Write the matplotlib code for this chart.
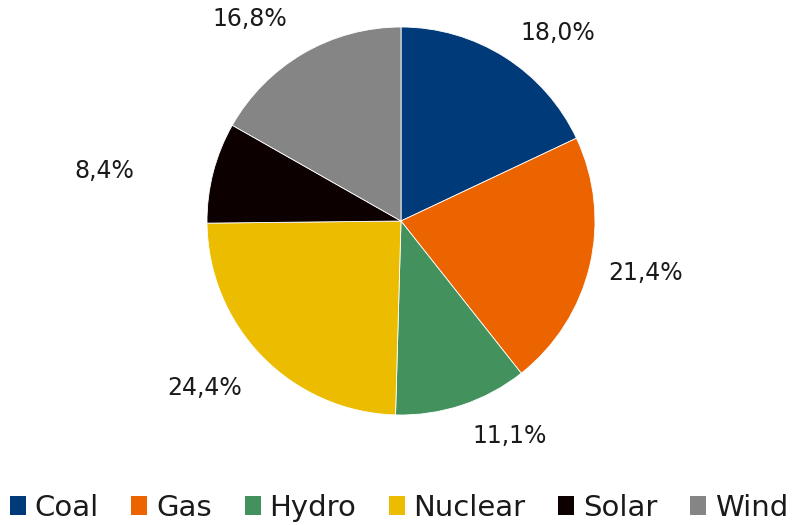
import numpy as np
import matplotlib.pyplot as plt
from matplotlib.patches import Patch

# energy mix shares (%)
sources = ['Coal', 'Gas', 'Hydro', 'Nuclear', 'Solar', 'Wind']
shares = [18.0, 21.4, 11.1, 24.4, 8.4, 16.8]
colors = ['#003A78', '#EC6400', '#43925E', '#EBBC00', '#0D0000', '#858585']
labels = ['18,0%', '21,4%', '11,1%', '24,4%', '8,4%', '16,8%']

# label offsets from pie centre, in radius units (as laid out in the original)
label_pos = [(0.81, 0.97), (1.26, -0.27), (0.56, -1.11),
             (-1.01, -0.86), (-1.53, 0.26), (-0.78, 1.04)]

plt.rcParams['font.family'] = ['DejaVu Sans']

W, H = 798, 525
fig = plt.figure(figsize=(W / 100, H / 100), dpi=100)
cx, cy, r = 401, 221, 194
ax = fig.add_axes([(cx - r) / W, (H - cy - r) / H, 2 * r / W, 2 * r / H])

ax.pie(shares, colors=colors, startangle=90, counterclock=False, radius=1,
       wedgeprops=dict(edgecolor='white', linewidth=0.6))
ax.set_xlim(-1, 1)
ax.set_ylim(-1, 1)
ax.set_aspect('equal')
ax.axis('off')

for lab, (dx, dy) in zip(labels, label_pos):
    ax.text(dx, dy, lab, ha='center', va='center', fontsize=17, color='#1a1a1a',
            clip_on=False)

handles = [Patch(facecolor=c, edgecolor='none') for c in colors]
fig.legend(handles, sources, loc='center', bbox_to_anchor=(0.5, 1 - 508 / H),
           ncol=6, frameon=False, fontsize=21, handlelength=0.55, handleheight=0.6,
           handletextpad=0.3, columnspacing=1.12, labelcolor='#1a1a1a',
           borderpad=0, borderaxespad=0)

fig.savefig('out.png', dpi=100)
